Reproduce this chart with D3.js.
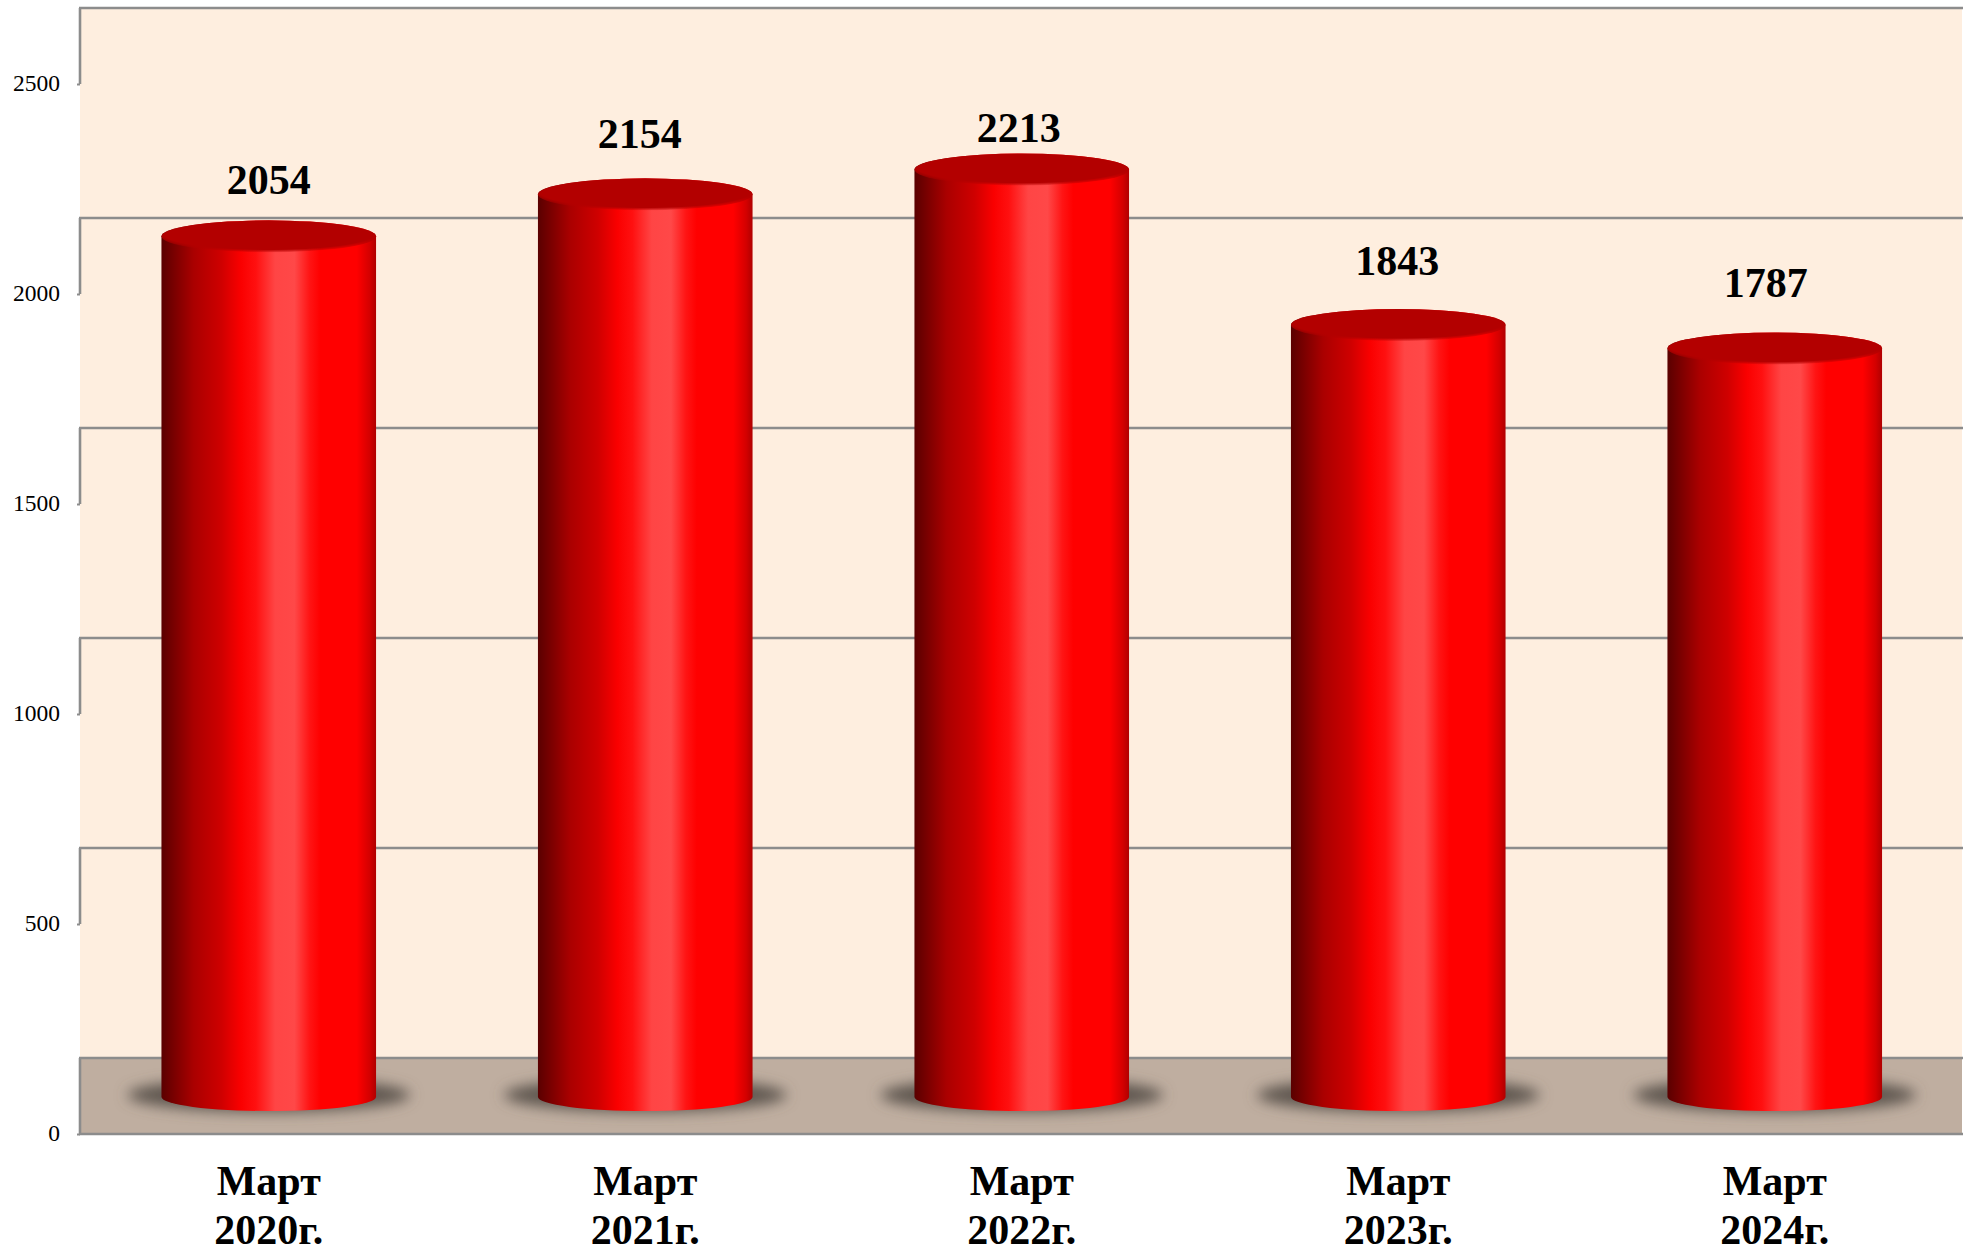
<!DOCTYPE html>
<html lang="ru">
	<head>
		<meta charset="utf-8">
		<title>Март 2020-2024</title>
		<script src="https://d3js.org/d3.v7.min.js"></script>
		<style>
			body { margin: 0; background: #fff; }
			svg { display: block; }
			text { font-family: "Liberation Serif", serif; fill: #000; }
		</style>
	</head>
	<body>
		<script type="text/javascript">

			// data
			var months = ["Март", "Март", "Март", "Март", "Март"];
			var years = ["2020г.", "2021г.", "2022г.", "2023г.", "2024г."];
			var values = [2054, 2154, 2213, 1843, 1787];
			var yTicks = [0, 500, 1000, 1500, 2000, 2500];

			// the value labels were placed by hand in the original
			var labelDx = [0, -5.5, -3, -1, -9];
			var labelDy = [-42, -46, -28, -50, -51];

			var w = 1970;
			var h = 1253;
			var left = 80;
			var right = 1962;
			var wallDepth = 76;   // floor depth, back wall sits this far above the front
			var topDepth = 35;    // cylinder stands mid floor
			var baseDepth = 37;

			var xScale = d3.scaleBand()
				.domain(d3.range(values.length))
				.range([left + 0.5, right + 1])
				.paddingInner(0.43)
				.paddingOuter(0.215);

			var yScale = d3.scaleLinear()
				.domain([0, 2500])
				.range([1134, 84]);

			var svg = d3.select("body").append("svg").attr("width", w).attr("height", h);
			var defs = svg.append("defs");

			// cylinder side shading
			var side = defs.append("linearGradient").attr("id", "side");
			[[0, "#5a0000"], [0.15, "#aa0000"], [0.28, "#cf0000"], [0.37, "#fa0000"], [0.44, "#ff1010"],
			 [0.53, "#ff4545"], [0.62, "#ff4848"], [0.69, "#ff1414"], [0.74, "#ff0000"], [0.91, "#ff0000"],
			 [0.97, "#d40000"], [1, "#b00000"]].forEach(function(s) {
				side.append("stop").attr("offset", s[0]).attr("stop-color", s[1]);
			});

			// dark top of the cylinder, fades out to the rim
			var cap = defs.append("radialGradient").attr("id", "cap")
				.attr("cx", 0.5).attr("cy", 0.42).attr("r", 0.6);
			[[0, 1], [0.82, 1], [1, 0]].forEach(function(s) {
				cap.append("stop").attr("offset", s[0]).attr("stop-color", "#b30000").attr("stop-opacity", s[1]);
			});

			var blur = defs.append("filter").attr("id", "blur")
				.attr("x", -0.2).attr("y", -0.8).attr("width", 1.4).attr("height", 2.6);
			blur.append("feGaussianBlur").attr("stdDeviation", 7);

			// back wall and floor
			svg.append("rect").attr("x", left).attr("y", yScale(2500) - wallDepth)
				.attr("width", right - left).attr("height", yScale(0) - yScale(2500))
				.attr("fill", "#feeedf");
			svg.append("rect").attr("x", left).attr("y", yScale(0) - wallDepth)
				.attr("width", right - left).attr("height", wallDepth)
				.attr("fill", "#bfaea0");

			// gridlines on the back wall and the slanted bits on the side
			var grid = svg.append("g").attr("stroke", "#8c8c8c").attr("stroke-width", 2.6);
			grid.selectAll("line.back").data(yTicks).enter().append("line")
				.attr("class", "back")
				.attr("x1", left - 1).attr("x2", right + 1)
				.attr("y1", function(d) { return yScale(d) - wallDepth; })
				.attr("y2", function(d) { return yScale(d) - wallDepth; });
			grid.selectAll("line.wall").data(yTicks).enter().append("line")
				.attr("class", "wall")
				.attr("x1", left).attr("x2", left)
				.attr("y1", function(d) { return yScale(d) - wallDepth; })
				.attr("y2", function(d) { return yScale(d); });
			grid.append("line")
				.attr("x1", left - 1).attr("x2", right + 1)
				.attr("y1", yScale(0)).attr("y2", yScale(0));

			// y axis
			var yAxis = d3.axisLeft(yScale).tickValues(yTicks).tickSize(3).tickPadding(17).tickFormat(d3.format("d"));
			var yG = svg.append("g").attr("transform", "translate(" + left + ",0)").call(yAxis);
			yG.select(".domain").remove();
			yG.selectAll(".tick line").attr("stroke", "#8c8c8c").attr("stroke-width", 2);
			yG.selectAll(".tick text")
				.attr("dy", "0.27em")
				.style("font-family", '"Liberation Serif", serif')
				.style("font-size", "23.5px");

			// cylinders
			var bars = svg.selectAll("g.bar").data(values).enter().append("g").attr("class", "bar");

			bars.append("ellipse")
				.attr("cx", function(d, i) { return xScale(i) + xScale.bandwidth() / 2; })
				.attr("cy", yScale(0) - baseDepth - 2)
				.attr("rx", xScale.bandwidth() / 2 + 34)
				.attr("ry", 17)
				.attr("fill", "#5f5650")
				.attr("filter", "url(#blur)");

			bars.append("path")
				.attr("fill", "url(#side)")
				.attr("d", function(d, i) {
					var x0 = xScale(i);
					var x1 = x0 + xScale.bandwidth();
					var r = xScale.bandwidth() / 2;
					var yt = yScale(d) - topDepth;
					var yb = yScale(0) - baseDepth;
					return "M" + x0 + "," + yt + "L" + x0 + "," + yb +
						"A" + r + ",14 0 0 0 " + x1 + "," + yb +
						"L" + x1 + "," + yt +
						"A" + r + ",16 0 0 0 " + x0 + "," + yt + "Z";
				});

			bars.append("ellipse")
				.attr("cx", function(d, i) { return xScale(i) + xScale.bandwidth() / 2; })
				.attr("cy", function(d) { return yScale(d) - topDepth; })
				.attr("rx", xScale.bandwidth() / 2)
				.attr("ry", 16)
				.attr("fill", "url(#cap)");

			// value labels
			svg.selectAll("text.value").data(values).enter().append("text")
				.attr("class", "value")
				.attr("text-anchor", "middle")
				.attr("font-size", 42)
				.attr("font-weight", "bold")
				.attr("x", function(d, i) { return xScale(i) + xScale.bandwidth() / 2 + labelDx[i]; })
				.attr("y", function(d, i) { return yScale(d) - topDepth + labelDy[i]; })
				.text(function(d) { return d; });

			// category labels, two lines
			var cats = svg.selectAll("text.cat").data(months).enter().append("text")
				.attr("class", "cat")
				.attr("text-anchor", "middle")
				.attr("font-size", 42)
				.attr("font-weight", "bold");
			cats.append("tspan")
				.attr("x", function(d, i) { return xScale(i) + xScale.bandwidth() / 2; })
				.attr("y", 1195)
				.text(function(d) { return d; });
			cats.append("tspan")
				.attr("x", function(d, i) { return xScale(i) + xScale.bandwidth() / 2; })
				.attr("y", 1243.5)
				.text(function(d, i) { return years[i]; });

		</script>
	</body>
</html>
